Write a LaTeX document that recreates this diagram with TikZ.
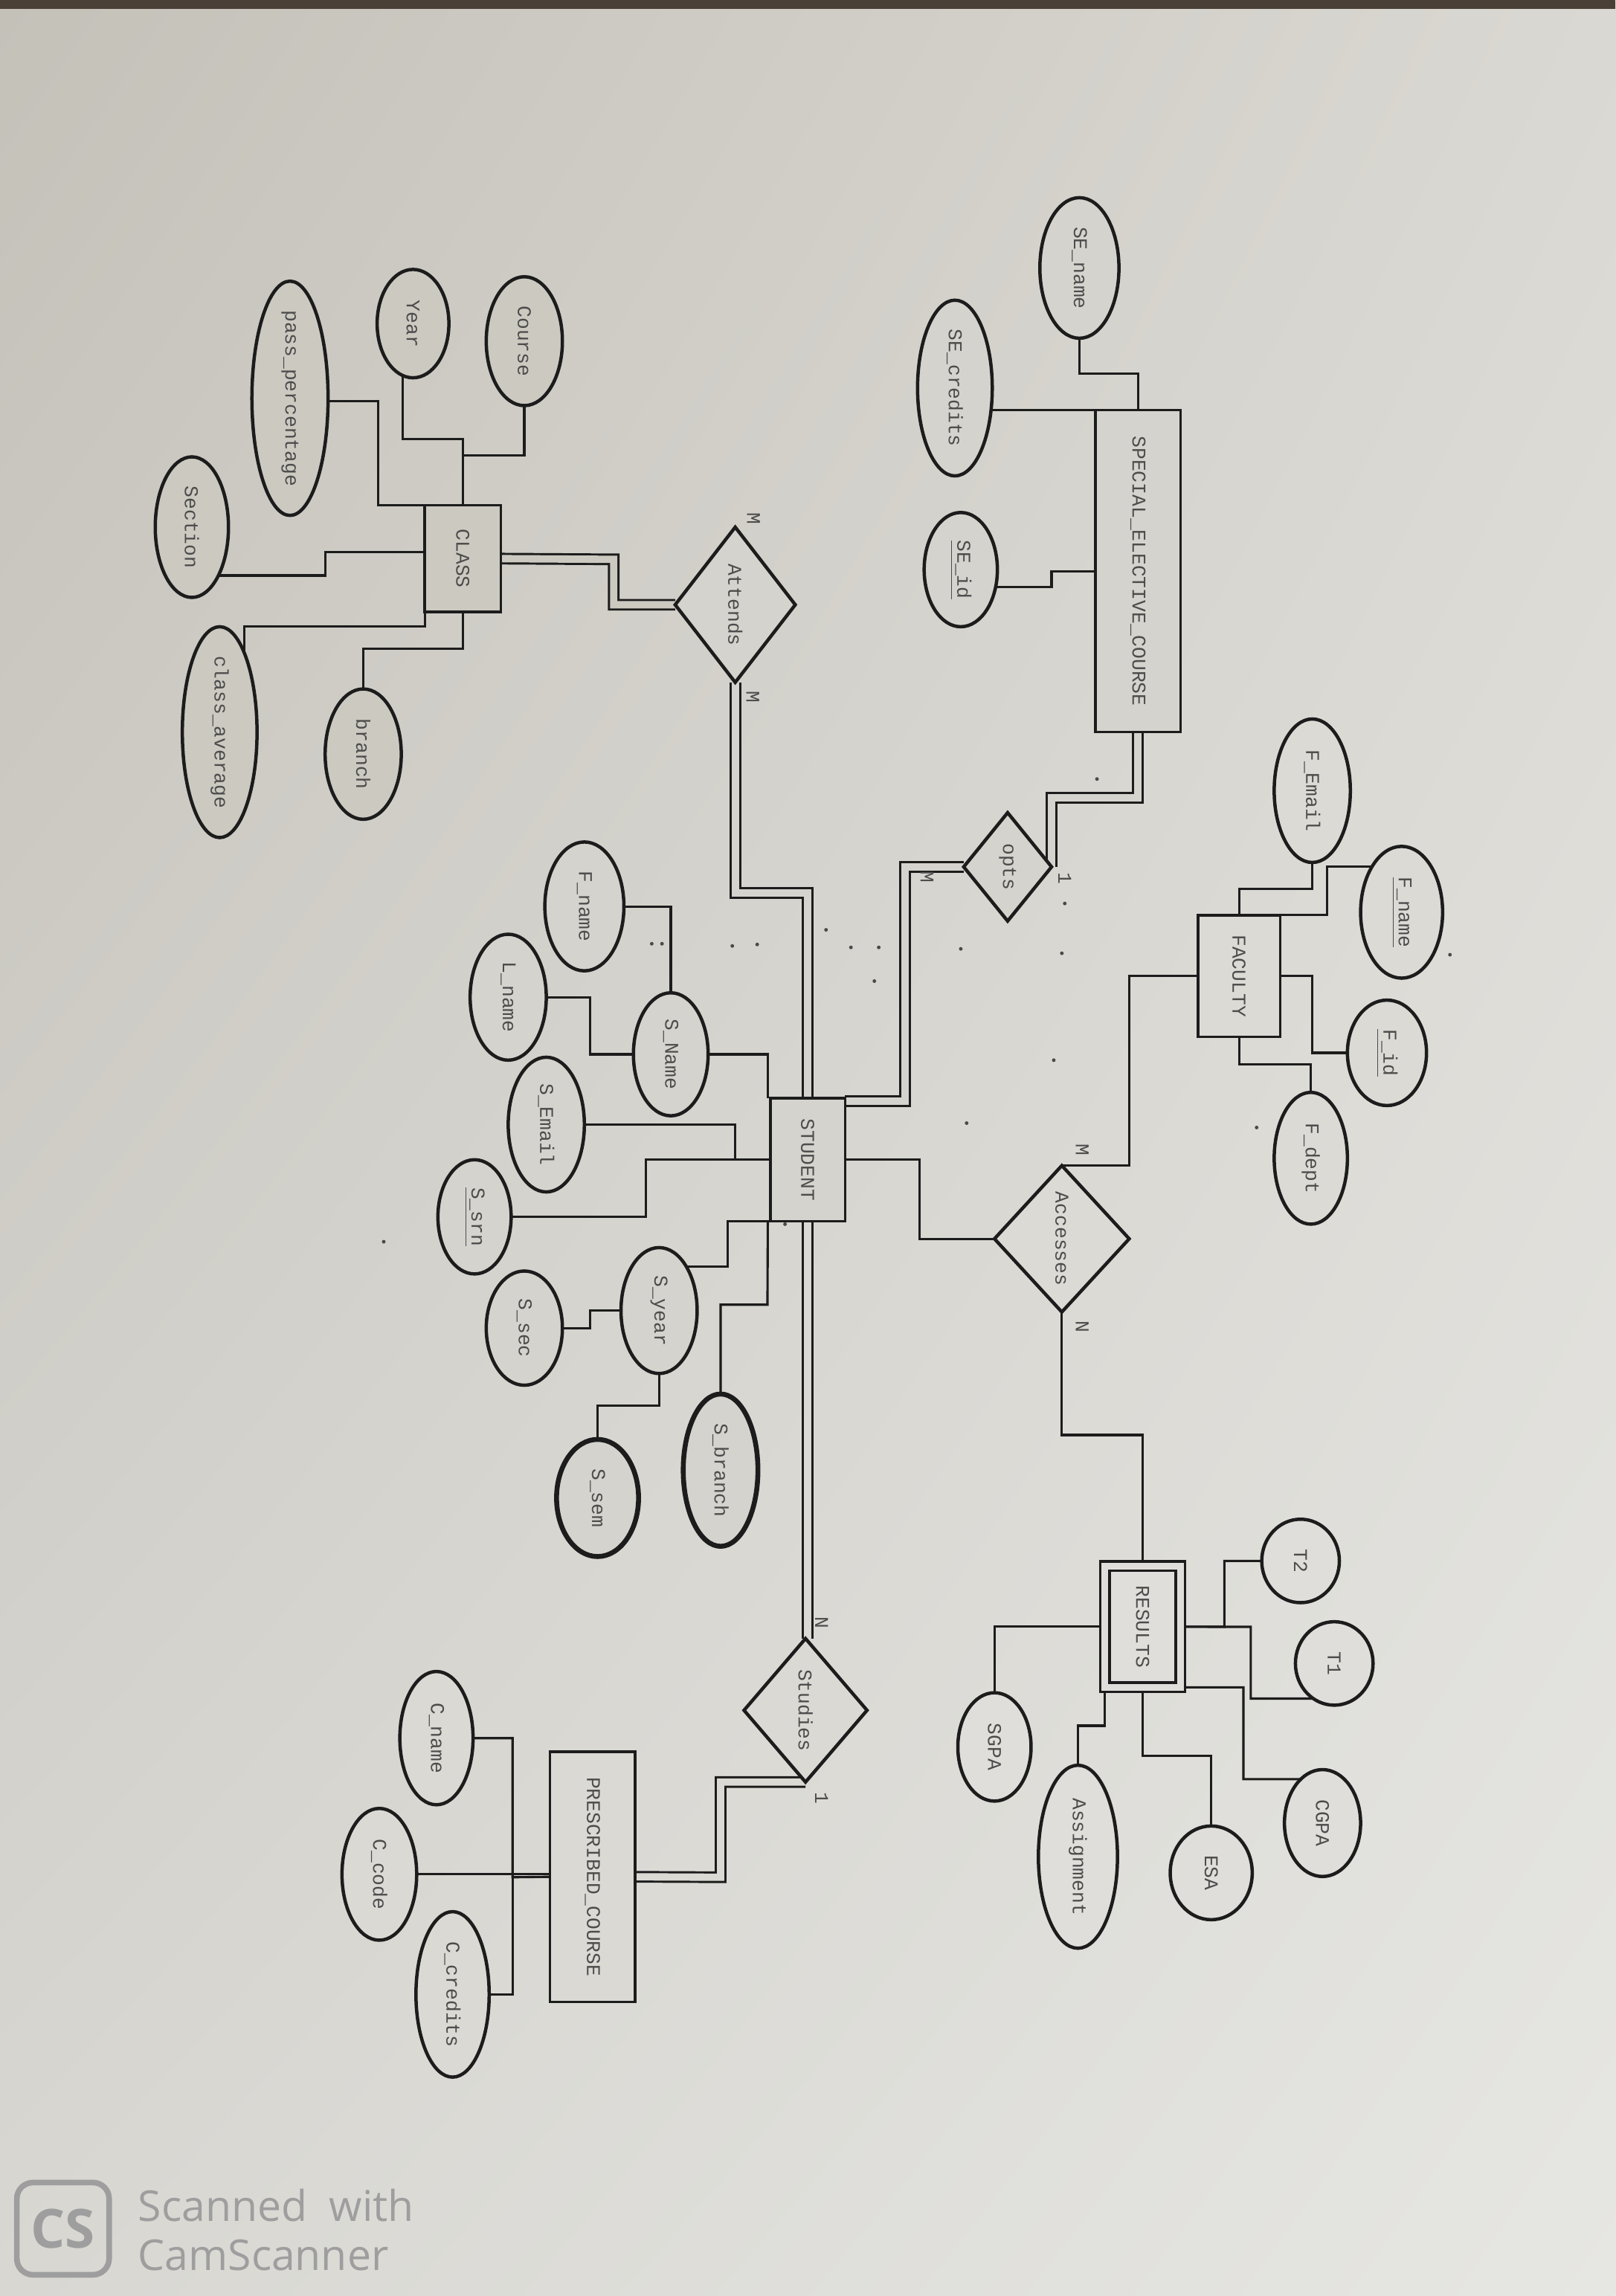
\documentclass[tikz,border=0pt]{standalone}
\usepackage{graphicx}
\usepackage{fontspec}
\newfontfamily\dotfont{Liberation Mono}
\newfontfamily\wmfont{Open Sans}
\usetikzlibrary{shapes.geometric,calc,shadings}
\pgfdeclarelayer{paperlayer}
\pgfdeclarelayer{wirelayer}
\pgfsetlayers{paperlayer,wirelayer,main}
\definecolor{ink}{HTML}{1C1C1C}
\definecolor{txt}{HTML}{4C4C4C}
\definecolor{fA}{HTML}{CCC9C1}
\definecolor{fB}{HTML}{D5D3CD}
\definecolor{fC}{HTML}{DBDAD5}
\definecolor{fD}{HTML}{DFDEDA}
\definecolor{fE}{HTML}{DAD9D4}
\definecolor{pUL}{HTML}{C4C1B9}
\definecolor{pUR}{HTML}{DAD8D2}
\definecolor{pLL}{HTML}{D8D7D2}
\definecolor{pLR}{HTML}{E6E6E3}
\definecolor{topband}{HTML}{4A4038}
\definecolor{wmc}{HTML}{9E9E9E}
\newcommand\rt[1]{\rotatebox{-90}{\makebox[0pt]{#1}}}
\tikzset{
  sz/.style 2 args={minimum width=#1*0.02cm, minimum height=#2*0.02cm},
  base/.style={draw=ink, inner sep=0pt, outer sep=0pt, text=txt,
    font=\dotfont\fontsize{7.6}{9}\selectfont},
  attr/.style={base, ellipse, line width=1.3pt, fill=fB},
  boldattr/.style={attr, line width=1.9pt},
  ent/.style={base, rectangle, line width=1pt, fill=fB},
  weakent/.style={ent, double=fD, double distance=0.095cm},
  rel/.style={base, diamond, line width=1.3pt, fill=fB},
  wire/.style={draw=ink, line width=0.9pt},
  dbl/.style={draw=ink, line width=0.85pt, double=fB, double distance=0.1cm},
  card/.style={text=txt, inner sep=0pt, font=\dotfont\fontsize{7.6}{9}\selectfont},
}
\begin{document}
\begin{tikzpicture}[x=0.02cm, y=-0.02cm]
\useasboundingbox (0,0) rectangle (1103,1568);
\begin{pgfonlayer}{paperlayer}
  \shade[upper left=pUL, upper right=pUR, lower left=pLL, lower right=pLR] (0,0) rectangle (1103,1568);
  \fill[topband] (0,0) rectangle (1103,6);
\end{pgfonlayer}

% ---------- CLASS ----------
\node[ent, fill=fA, sz={52}{73}] (cls) at (316,381.5) {\rt{CLASS}};
\node[attr, fill=fA, sz={52}{160}] (pp) at (198,272) {\rt{pass\_percentage}};
\node[attr, fill=fA, sz={49}{74}] (yr) at (282,221) {\rt{Year}};
\node[attr, fill=fA, sz={52}{88}] (crs) at (358,233) {\rt{Course}};
\node[attr, fill=fA, sz={50}{96}] (sec) at (131,360) {\rt{Section}};
\node[attr, fill=fA, sz={51}{144}] (cavg) at (150,500) {\rt{class\_average}};
\node[attr, fill=fA, sz={52}{89}] (br) at (248,515) {\rt{branch}};

% ---------- SPECIAL ELECTIVE ----------
\node[ent, sz={58}{220}] (se) at (777,390) {\rt{SPECIAL\_ELECTIVE\_COURSE}};
\node[attr, sz={54}{96}] (sen) at (737,183) {\rt{SE\_name}};
\node[attr, sz={51}{120}] (secr) at (652,265) {\rt{SE\_credits}};
\node[attr, sz={50}{78}] (seid) at (656,389) {\rt{\underline{SE\_id}}};

% ---------- relationships ----------
\node[rel, sz={82}{106}] (att) at (502,413) {\rt{Attends}};
\node[rel, sz={60}{74}] (opts) at (688,592) {\rt{opts}};
\node[rel, fill=fC, sz={92}{100}] (acc) at (725,846) {\rt{Accesses}};
\node[rel, fill=fE, sz={84}{98}] (studies) at (550,1168) {\rt{Studies}};

% ---------- STUDENT ----------
\node[ent, sz={51}{84}] (student) at (551.5,792) {\rt{STUDENT}};
\node[attr, sz={54}{88}] (fn) at (399,619) {\rt{F\_name}};
\node[attr, sz={52}{86}] (ln) at (347,681) {\rt{L\_name}};
\node[attr, sz={51}{84}] (sn) at (458,720) {\rt{S\_Name}};
\node[attr, sz={52}{92}] (sem) at (373,768) {\rt{S\_Email}};
\node[attr, sz={50}{78}] (srn) at (324,831) {\rt{\underline{S\_srn}}};
\node[attr, sz={52}{78}] (ssec) at (358,907) {\rt{S\_sec}};
\node[attr, sz={52}{86}] (syr) at (450,895) {\rt{S\_year}};
\node[boldattr, sz={56}{80}] (ssem) at (408,1023) {\rt{S\_sem}};
\node[boldattr, sz={51}{104}] (sbr) at (492,1004) {\rt{S\_branch}};

% ---------- FACULTY ----------
\node[ent, fill=fC, sz={56}{83}] (fac) at (846,666.5) {\rt{FACULTY}};
\node[attr, fill=fC, sz={52}{98}] (fem) at (896,540) {\rt{F\_Email}};
\node[attr, fill=fC, sz={56}{90}] (fnm) at (957,623) {\rt{\underline{F\_name}}};
\node[attr, fill=fC, sz={54}{72}] (fid) at (947,719) {\rt{\underline{F\_id}}};
\node[attr, fill=fC, sz={50}{90}] (fdp) at (895,791) {\rt{F\_dept}};

% ---------- RESULTS ----------
\node[weakent, fill=fD, sz={51.6}{82.8}] (res) at (780.2,1110.9) {\rt{RESULTS}};
\node[attr, fill=fD, sz={53}{57}] (t2) at (888,1066) {\rt{T2}};
\node[attr, fill=fD, sz={53}{57}] (t1) at (911,1136) {\rt{T1}};
\node[attr, fill=fD, sz={52}{73}] (cgpa) at (903,1245) {\rt{CGPA}};
\node[attr, fill=fD, sz={56}{64}] (esa) at (827,1279) {\rt{ESA}};
\node[attr, fill=fD, sz={54}{125}] (asg) at (736,1268) {\rt{Assignment}};
\node[attr, fill=fD, sz={50}{74}] (sgpa) at (679,1193) {\rt{SGPA}};

% ---------- PRESCRIBED COURSE ----------
\node[ent, fill=fE, sz={58}{171}] (pc) at (404.6,1281.7) {\rt{PRESCRIBED\_COURSE}};
\node[attr, fill=fE, sz={50}{91}] (cname) at (298,1187) {\rt{C\_name}};
\node[attr, fill=fE, sz={51}{90}] (ccode) at (259,1280) {\rt{C\_code}};
\node[attr, fill=fE, sz={50}{113}] (ccred) at (309,1362) {\rt{C\_credits}};

% ---------- cardinalities ----------
\node[card] (cA1) at (514.5,354) {\rt{M}};
\node[card] (cA2) at (514,476) {\rt{M}};
\node[card] (cO1) at (633,599) {\rt{M}};
\node[card] (cO2) at (727,600) {\rt{1}};
\node[card] (cC1) at (739,785) {\rt{M}};
\node[card] (cC2) at (739,906) {\rt{N}};
\node[card] (cS1) at (561,1108) {\rt{N}};
\node[card] (cS2) at (561,1228) {\rt{1}};

% ---------- connectors ----------
\begin{pgfonlayer}{wirelayer}
  % CLASS attributes
  \draw[wire] (pp.center |- 0,274) -- (258,274) |- (cls.north west);
  \draw[wire] (yr.center) ++(-7,0) |- (316,300) -- (cls.north);
  \draw[wire] (crs.south) |- (316,311);
  \draw[wire] (sec.center |- 0,393) -- (222,393) |- (cls.west |- 0,377);
  \draw[wire] (cavg.center) ++(17,0) |- (290,428) -- (cls.south west);
  \draw[wire] (br.north) |- (316,443) -- (cls.south);
  % SE attributes
  \draw[wire] (sen.south) -- ++(0,24) -| (se.north);
  \draw[wire] (secr.center |- se.north) -- (se.north west);
  \draw[wire] (seid.center) ++(0,12) -- (718,401) |- (se.west);
  % STUDENT attributes
  \draw[wire] (fn.east) -| (sn.north);
  \draw[wire] (ln.east) -- ++(30,0) |- (sn.west);
  \draw[wire] (sn.east) -| ([xshift=-0.035cm]student.north west);
  \draw[wire] (sbr.north) |- (524,891) -- ([xshift=-0.035cm]student.south west);
  \draw[wire] (sem.east) -| (502,792) -- (student.west);
  \draw[wire] (srn.east) -| (441,792) -- (student.west);
  \draw[wire] (syr.center) ++(0,-30) -| (497,834) -- (student.south west);
  \draw[wire] (ssec.east) -- ++(19,0) |- (syr.west);
  \draw[wire] (ssem.north) -- ++(0,-23) -| (syr.south);
  % FACULTY attributes
  \draw[wire] (fem.south) -- ++(0,18) -| (fac.north);
  \draw[wire] (fnm.center) ++(0,-31) -| (906,625) -- (fac.north east);
  \draw[wire] (fid.west) -- ++(-24,0) |- (fac.east);
  \draw[wire] (fdp.north) -- ++(0,-19) -| (fac.south);
  % RESULTS attributes
  \draw[wire] (t2.west) -| (836,1111) -- (res.east);
  \draw[wire] (t1.center |- 0,1160) -| (854,1111) -- (res.east);
  \draw[wire] (cgpa.center |- 0,1215) -| (849,1152.3) -- (res.south east);
  \draw[wire] (esa.north) -- ++(0,-48) -| (res.south);
  \draw[wire] (asg.north) -- ++(0,-27) -| (res.south west);
  \draw[wire] (sgpa.north) |- (res.west);
  % PRESCRIBED attributes
  \draw[wire] (cname.east) -| (350,1282) -- (pc.west);
  \draw[wire] (ccode.east) -- (ccode.east -| pc.west);
  \draw[wire] (ccred.east) -| (350,1282);
  % relationships
  \draw[dbl, double=fA] (cls.east) -- (419,382) |- (att.west);
  \draw[dbl] (att.south) |- (551.5,610) -- (student.north);
  \draw[dbl] (se.south) -- ++(0,45) -| (opts.east);
  \draw[dbl] (opts.west) -- (618,592) |- ([yshift=-0.04cm]student.north east);
  \draw[dbl, double=fE] (student.south) -- (student.south |- studies.north);
  \draw[dbl, double=fE] (studies.south) -| (492,1282) -- (pc.east);
  \draw[wire] (student.east) -- (628,792) |- (acc.west);
  \draw[wire] (fac.west) -| (771,796) -- (acc.north);
  \draw[wire] (acc.south) -- ++(0,84) -| (res.north);
\end{pgfonlayer}

% ---------- stray print dots ----------
\foreach \p in {(500,646),(517,645),(564,635),(581,647),(600,647),(656,648),(725,651),(727,617),(749,532),(719.5,724),(660,767),(858,770),(990,652),(445,644.5),(452,644.5),(597,670),(536,836),(262,848)}
  \fill[ink!80] \p circle[radius=0.025cm];

% ---------- scanner watermark ----------
\node[draw=wmc, line width=2.2pt, rounded corners=0.22cm, minimum size=1.26cm, inner sep=0pt,
      text=wmc, font=\wmfont\bfseries\fontsize{21}{21}\selectfont] (cs) at (43,1522) {CS};
\node[anchor=west, inner sep=0pt, text=wmc, font=\wmfont\fontsize{16.5}{18}\selectfont] (wm1) at (94,1506) {Scanned\ \ with};
\node[anchor=west, inner sep=0pt, text=wmc, font=\wmfont\fontsize{16.5}{18}\selectfont] (wm2) at (94,1540) {CamScanner};
\end{tikzpicture}
\end{document}
